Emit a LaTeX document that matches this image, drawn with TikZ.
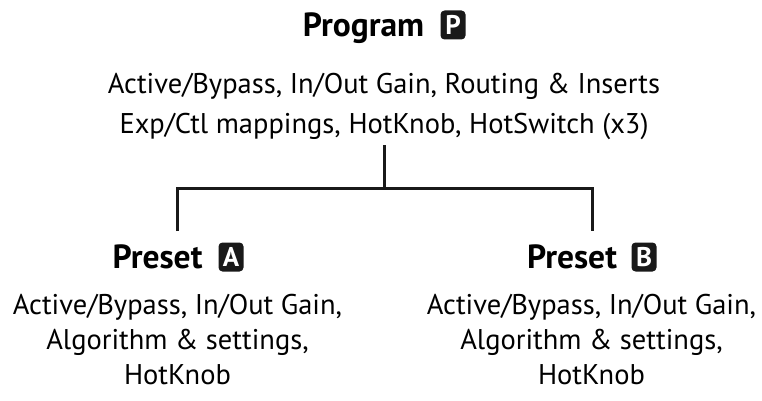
\documentclass[tikz,border=0pt]{standalone}
\usepackage{fontspec}
\setmainfont{PT Sans}
\begin{document}
\begin{tikzpicture}[x=1pt,y=1pt,
  body/.style={anchor=base,inner sep=0pt,font=\fontsize{28.5}{34}\selectfont},
  title/.style={anchor=base,inner sep=0pt,font=\fontsize{33.5}{38}\selectfont\bfseries},
  badge/.style={fill=black!90,text=white,rounded corners=4pt,minimum width=25pt,minimum height=29pt,inner sep=0pt,font=\fontsize{27}{30}\selectfont\bfseries},
  wire/.style={line width=3pt,draw=black!90}]
\useasboundingbox (0,0) rectangle (762,-401);
% Program
\node[title] (prog) at (363.5,-36.5) {Program};
\node[badge] (pb) at (453,-25) {P};
\node[body] (p1) at (384,-94) {Active/Bypass, In/Out Gain, Routing \& Inserts};
\node[body] (p2) at (384,-133) {Exp/Ctl mappings, HotKnob, HotSwitch (x3)};
% Preset A
\node[title] (pa) at (157.5,-268) {Preset};
\node[badge] (ab) at (231,-257) {A};
\node[body] (a1) at (177.5,-314) {Active/Bypass, In/Out Gain,};
\node[body] (a2) at (177.5,-349) {Algorithm \& settings,};
\node[body] (a3) at (177.5,-384) {HotKnob};
% Preset B
\node[title] (pbb) at (572,-268) {Preset};
\node[badge] (bb) at (644,-257) {B};
\node[body] (b1) at (591.5,-314) {Active/Bypass, In/Out Gain,};
\node[body] (b2) at (591.5,-349) {Algorithm \& settings,};
\node[body] (b3) at (591.5,-384) {HotKnob};
% connector
\coordinate (top) at (384,-145);
\coordinate (j) at (384,-188);
\coordinate (la) at (177,-231);
\coordinate (lb) at (592,-231);
\draw[wire] (top) -- (j);
\draw[wire] (la) |- (j) -| (lb);
\end{tikzpicture}
\end{document}
